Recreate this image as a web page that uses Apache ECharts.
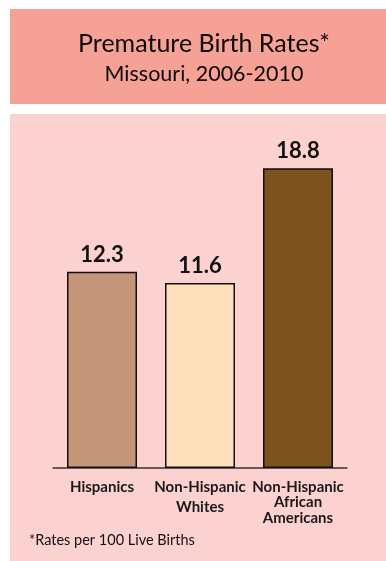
<!DOCTYPE html>
<html><head><meta charset="utf-8">
<style>html,body{margin:0;padding:0;background:#fff;}#c{width:386px;height:561px;}</style>
<script src="https://cdn.jsdelivr.net/npm/echarts@6/dist/echarts.min.js"></script>
</head><body><div id="c"></div>
<script>
const categories = ['Hispanics', 'Non-Hispanic\nWhites', 'Non-Hispanic\nAfrican\nAmericans'];
const rates = [12.3, 11.6, 18.8];
const barColors = ['#C5957A', '#FEE0BA', '#7C531C'];
const titleText = 'Premature Birth Rates*';
const subtitleText = 'Missouri, 2006-2010';
const footnote = '*Rates per 100 Live Births';

const FONT = 'Lato';
const chart = echarts.init(document.getElementById('c'), null, {renderer: 'canvas'});
chart.setOption({
  backgroundColor: '#ffffff',
  animation: false,
  graphic: [
    {type: 'rect', z: -10, shape: {x: 10, y: 9, width: 376, height: 95}, style: {fill: '#F6A195'}},
    {type: 'rect', z: -10, shape: {x: 10, y: 114, width: 376, height: 447}, style: {fill: '#FCD2D0'}},
    {type: 'text', left: 29, top: 533, style: {text: footnote, font: '14.5px ' + FONT, fill: '#111'}}
  ],
  title: {
    text: titleText,
    subtext: subtitleText,
    left: 199, textAlign: 'center', top: 26,
    itemGap: 7,
    textStyle: {fontFamily: FONT, fontSize: 25, fontWeight: 'normal', color: '#0a0a0a'},
    subtextStyle: {fontFamily: FONT, fontSize: 21.5, color: '#0a0a0a'}
  },
  grid: {left: 53, right: 39, top: 149, bottom: 93},
  xAxis: {
    type: 'category', data: categories,
    axisLine: {lineStyle: {color: '#333', width: 1.5}},
    axisTick: {show: false},
    axisLabel: {
      interval: 0, margin: 11,
      formatter: function (v) {
        if (v.indexOf('Whites') >= 0) return '{a|Non-Hispanic}\n{w|Whites}';
        return v.split('\n').map(s => '{a|' + s + '}').join('\n');
      },
      rich: {
        a: {fontFamily: FONT, fontWeight: 'bold', fontSize: 15, color: '#1a1a1a', lineHeight: 15.5},
        w: {fontFamily: FONT, fontWeight: 'bold', fontSize: 15, color: '#1a1a1a', lineHeight: 25}
      }
    }
  },
  yAxis: {type: 'value', min: 0, max: 20, show: false, splitLine: {show: false}},
  series: [{
    type: 'bar', barWidth: 70,
    data: rates.map((v, i) => ({value: v, itemStyle: {color: barColors[i]}})),
    itemStyle: {borderColor: '#111', borderWidth: 1.5},
    label: {show: true, position: 'top', distance: 6, fontFamily: FONT, fontWeight: 'bold', fontSize: 22, color: '#111'}
  }]
});
</script></body></html>
